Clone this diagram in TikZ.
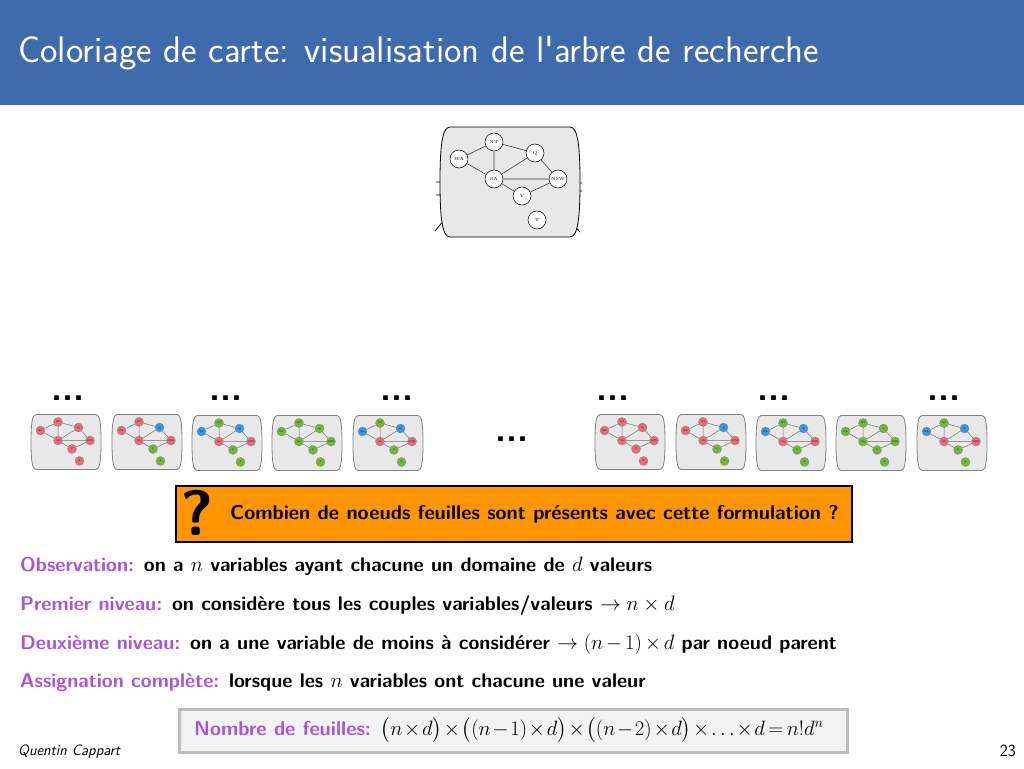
\documentclass[tikz,border=0pt]{standalone}
\usepackage{amsmath}
\definecolor{titleblue}{RGB}{63,106,171}
\definecolor{labelpurple}{RGB}{170,85,215}
\definecolor{qorange}{RGB}{255,150,0}
\definecolor{mapfill}{RGB}{232,232,232}
\definecolor{mapedge}{RGB}{130,130,130}
\definecolor{vred}{RGB}{236,104,125}
\definecolor{vblue}{RGB}{55,150,230}
\definecolor{vgreen}{RGB}{110,185,50}
\definecolor{boxgray}{RGB}{243,243,243}
\definecolor{boxedge}{RGB}{190,190,190}

% one map of Australia as a constraint graph, nodes named with a prefix
\newcommand{\ausmap}[1]{%
  \path[mapbg] (-60,-55) -- (60,-55)
    .. controls (68,-55) and (70,-35) .. (70,0)
    .. controls (70,35) and (68,55) .. (60,55) -- (-60,55)
    .. controls (-68,55) and (-70,35) .. (-70,0)
    .. controls (-70,-35) and (-68,-55) .. (-60,-55) -- cycle;
  \node[vtx,cWA]  (#1-WA)  at (-51,-23) {WA};
  \node[vtx,cNT]  (#1-NT)  at (-16,-40) {NT};
  \node[vtx,cQ]   (#1-Q)   at (25,-29)  {Q};
  \node[vtx,cSA]  (#1-SA)  at (-16,-3)  {SA};
  \node[vtx,cNSW] (#1-NSW) at (48,-3)   {NSW};
  \node[vtx,cV]   (#1-V)   at (12,14)   {V};
  \node[vtx,cT]   (#1-T)   at (27,38)   {T};
  \draw[link] (#1-WA) -- (#1-NT) (#1-WA) -- (#1-SA) (#1-NT) -- (#1-SA)
              (#1-NT) -- (#1-Q) (#1-SA) -- (#1-Q) (#1-SA) -- (#1-NSW)
              (#1-SA) -- (#1-V) (#1-Q) -- (#1-NSW) (#1-NSW) -- (#1-V);
}

\tikzset{
  mapbg/.style={fill=mapfill, draw=black, line width=0.8pt},
  link/.style={draw=black!75, line width=0.6pt},
  vtx/.style={circle, draw=black, line width=0.5pt, fill=white, minimum size=18pt,
              inner sep=0pt, font=\rmfamily\fontsize{4.5}{5}\selectfont},
  cWA/.style={}, cNT/.style={}, cQ/.style={}, cSA/.style={}, cNSW/.style={}, cV/.style={}, cT/.style={},
  small/.style={scale=0.5, transform shape,
    mapbg/.style={fill=mapfill, draw=mapedge, line width=0.8pt},
    link/.style={draw=black!55, line width=0.5pt},
    vtx/.append style={draw=black!45, line width=0.4pt}},
  allred/.style={cWA/.style={fill=vred}, cNT/.style={fill=vred}, cQ/.style={fill=vred},
    cSA/.style={fill=vred}, cNSW/.style={fill=vred}, cV/.style={fill=vred}, cT/.style={fill=vred}},
  allgreen/.style={cWA/.style={fill=vgreen}, cNT/.style={fill=vgreen}, cQ/.style={fill=vgreen},
    cSA/.style={fill=vgreen}, cNSW/.style={fill=vgreen}, cV/.style={fill=vgreen}, cT/.style={fill=vgreen}},
  redblue/.style={cWA/.style={fill=vred}, cNT/.style={fill=vred}, cQ/.style={fill=vblue},
    cSA/.style={fill=vred}, cNSW/.style={fill=vred}, cV/.style={fill=vgreen}, cT/.style={fill=vgreen}},
  mixed/.style={cWA/.style={fill=vblue}, cNT/.style={fill=vgreen}, cQ/.style={fill=vblue},
    cSA/.style={fill=vred}, cNSW/.style={fill=vred}, cV/.style={fill=vgreen}, cT/.style={fill=vgreen}},
  dots/.style={font=\sffamily\bfseries\fontsize{36}{36}\selectfont, inner sep=0pt, anchor=base},
  body/.style={font=\sffamily\bfseries\fontsize{19.8}{24}\selectfont, inner sep=0pt, anchor=base west},
}

\begin{document}
\begin{tikzpicture}[x=1pt,y=-1pt]
\useasboundingbox (0,0) rectangle (1024,768);
\fill[white] (0,0) rectangle (1024,768);

% title bar
\fill[titleblue] (0,0) rectangle (1024,105);
\node[anchor=base west, inner sep=0pt, text=white, font=\sffamily\fontsize{37}{44}\selectfont]
  (title) at (18,63) {Coloriage de carte: visualisation de l\textquotesingle arbre de recherche};

% root of the search tree, with the first few branches leaving it
\begin{scope}[shift={(510,182)}]
  \coordinate (r-l1) at (-70,0);   \coordinate (r-l1o) at (-74,0);
  \coordinate (r-l2) at (-70,13);  \coordinate (r-l2o) at (-74,13);
  \coordinate (r-r1) at (70,1);    \coordinate (r-r1o) at (72,1);
  \coordinate (r-r2) at (70,9);    \coordinate (r-r2o) at (72,9);
  \coordinate (r-bl) at (-65,37);  \coordinate (r-blo) at (-75,49);
  \coordinate (r-br) at (62,41);   \coordinate (r-bro) at (70,50);
  \draw[line width=0.8pt] (r-l1) -- (r-l1o) (r-l2) -- (r-l2o) (r-r1) -- (r-r1o)
    (r-r2) -- (r-r2o) (r-bl) -- (r-blo) (r-br) -- (r-bro);
  \ausmap{root}
\end{scope}

% ellipses between the branches
\node[dots] (d1) at (68,400) {...};
\node[dots] (d2) at (226,400) {...};
\node[dots] (d3) at (397,400) {...};
\node[dots] (d4) at (613,400) {...};
\node[dots] (d5) at (774,400) {...};
\node[dots] (d6) at (944,400) {...};
\node[dots] (d7) at (512,441) {...};

% second level of the tree
\begin{scope}[shift={(66,442)}, small, allred]   \ausmap{m1}  \end{scope}
\begin{scope}[shift={(147,442)}, small, redblue] \ausmap{m2}  \end{scope}
\begin{scope}[shift={(227,443)}, small, mixed]   \ausmap{m3}  \end{scope}
\begin{scope}[shift={(307,443)}, small, allgreen]\ausmap{m4}  \end{scope}
\begin{scope}[shift={(388,443)}, small, mixed]   \ausmap{m5}  \end{scope}
\begin{scope}[shift={(630,442)}, small, allred]  \ausmap{m6}  \end{scope}
\begin{scope}[shift={(711,442)}, small, redblue] \ausmap{m7}  \end{scope}
\begin{scope}[shift={(791,443)}, small, mixed]   \ausmap{m8}  \end{scope}
\begin{scope}[shift={(871,443)}, small, allgreen]\ausmap{m9}  \end{scope}
\begin{scope}[shift={(952,443)}, small, mixed]   \ausmap{m10} \end{scope}

% question
\node[draw=black, line width=2pt, fill=qorange, minimum width=676pt, minimum height=56pt,
      anchor=north west, inner sep=0pt] (qbox) at (175,485) {};
\node[font=\sffamily\bfseries\fontsize{64}{64}\selectfont, inner sep=0pt]
  (qmark) at (197,513) {?};
\node[body, font=\sffamily\bfseries\fontsize{20}{24}\selectfont] (qtext) at (230,519)
  {Combien de noeuds feuilles sont présents avec cette formulation ?};

% observations
\node[body] (obs) at (20,571)
  {\textcolor{labelpurple}{Observation:} on a $n$ variables ayant chacune un domaine de $d$ valeurs};
\node[body] (lvl1) at (20,610)
  {\textcolor{labelpurple}{Premier niveau:} on considère tous les couples variables/valeurs $\rightarrow n\times d$};
\node[body] (lvl2) at (20,649)
  {\textcolor{labelpurple}{Deuxième niveau:} on a une variable de moins à considérer {\medmuskip=2.5mu$\rightarrow (n-1)\times d$} par noeud parent};
\node[body] (full) at (20,687)
  {\textcolor{labelpurple}{Assignation complète:} lorsque les $n$ variables ont chacune une valeur};

% number of leaves
\node[draw=boxedge, line width=3pt, fill=boxgray, minimum width=668pt, minimum height=43pt,
      anchor=north west, inner sep=0pt] (fbox) at (178,708) {};
\node[body, anchor=west, font=\sffamily\bfseries\fontsize{20}{24}\selectfont] (ftext) at (194,730)
  {\textcolor{labelpurple}{Nombre de feuilles:} {\medmuskip=1.5mu\thickmuskip=3mu
   $\big(n\times d\big)\times\big((n-1)\times d\big)\times\big((n-2)\times d\big)\times\ldots\times d = n!d^n$}};

% footer
\node[anchor=base west, inner sep=0pt, font=\sffamily\itshape\fontsize{15}{18}\selectfont]
  (author) at (18,755) {Quentin Cappart};
\node[anchor=base east, inner sep=0pt, font=\sffamily\fontsize{17}{20}\selectfont]
  (page) at (1016,756) {23};
\end{tikzpicture}
\end{document}
